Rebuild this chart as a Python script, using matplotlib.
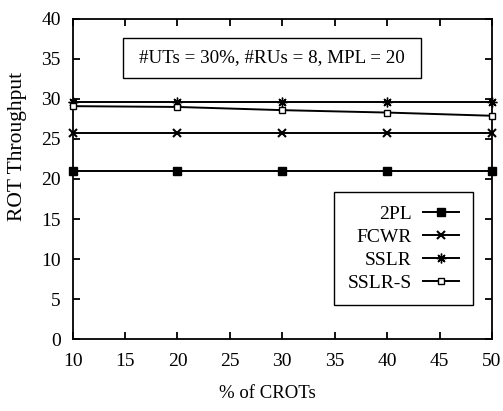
import matplotlib
matplotlib.use("Agg")
import matplotlib.pyplot as plt
from matplotlib.patches import Rectangle

# --- data ---
crots = [10, 20, 30, 40, 50]
tp_2pl = [21.0, 21.0, 21.0, 21.0, 21.0]
tp_fcwr = [25.8, 25.8, 25.8, 25.8, 25.8]
tp_sslr = [29.6, 29.6, 29.6, 29.6, 29.6]
tp_sslr_s = [29.1, 29.0, 28.6, 28.3, 27.9]

series = [
    ("2PL", tp_2pl, dict(marker="s", ms=6, mfc="black")),
    ("FCWR", tp_fcwr, dict(marker="x", ms=5.5, mew=1.5)),
    ("SSLR", tp_sslr, dict(marker=(8, 2, 0), ms=7, mew=1.0)),
    ("SSLR-S", tp_sslr_s, dict(marker="s", ms=5, mfc="white", mew=1.0)),
]

plt.rcParams["font.family"] = ["Liberation Serif", "DejaVu Serif"]
plt.rcParams["font.size"] = 14

W, H = 503, 411
fig = plt.figure(figsize=(W / 100, H / 100), dpi=100)
ax = fig.add_axes([0.1445, 0.175, 0.8335, 0.779])

for name, ys, st in series:
    ax.plot(crots, ys, color="black", lw=1.4, mec="black", label=name,
            clip_on=False, zorder=3, **st)

ax.set_xlim(10, 50)
ax.set_ylim(0, 40)
ax.set_xticks(range(10, 51, 5))
ax.set_yticks(range(0, 41, 5))
ax.tick_params(direction="in", top=True, right=True, length=5, width=1.3,
               labelsize=14)
ax.tick_params(axis="x", pad=10)
ax.tick_params(axis="y", pad=8.5)
for s in ax.spines.values():
    s.set_linewidth(1.3)

# axis titles (placed where the reference has them)
fig.text(267 / W, 1 - 393 / H, "% of CROTs", ha="center", va="center", fontsize=13.5)
fig.text(17.5 / W, 1 - 146 / H, "ROT Throughput", ha="center", va="center",
         rotation=90, fontsize=15.5)

# parameter box
ax.add_patch(Rectangle((0.120, 0.8156), 0.711, 0.125, transform=ax.transAxes,
                       fc="white", ec="black", lw=1.0, zorder=4))
ax.text(0.4755, 0.878, "#UTs = 30%, #RUs = 8, MPL = 20", transform=ax.transAxes,
        ha="center", va="center", fontsize=13.7, zorder=5)

leg = ax.legend(loc="lower right", bbox_to_anchor=(0.9547, 0.106), borderaxespad=0,
                markerfirst=False, fancybox=False, edgecolor="black", framealpha=1,
                fontsize=14, handlelength=1.85, handletextpad=0.6,
                labelspacing=0.27, borderpad=0.7)
leg.get_frame().set_linewidth(1.0)

fig.savefig("out.png", dpi=100)
